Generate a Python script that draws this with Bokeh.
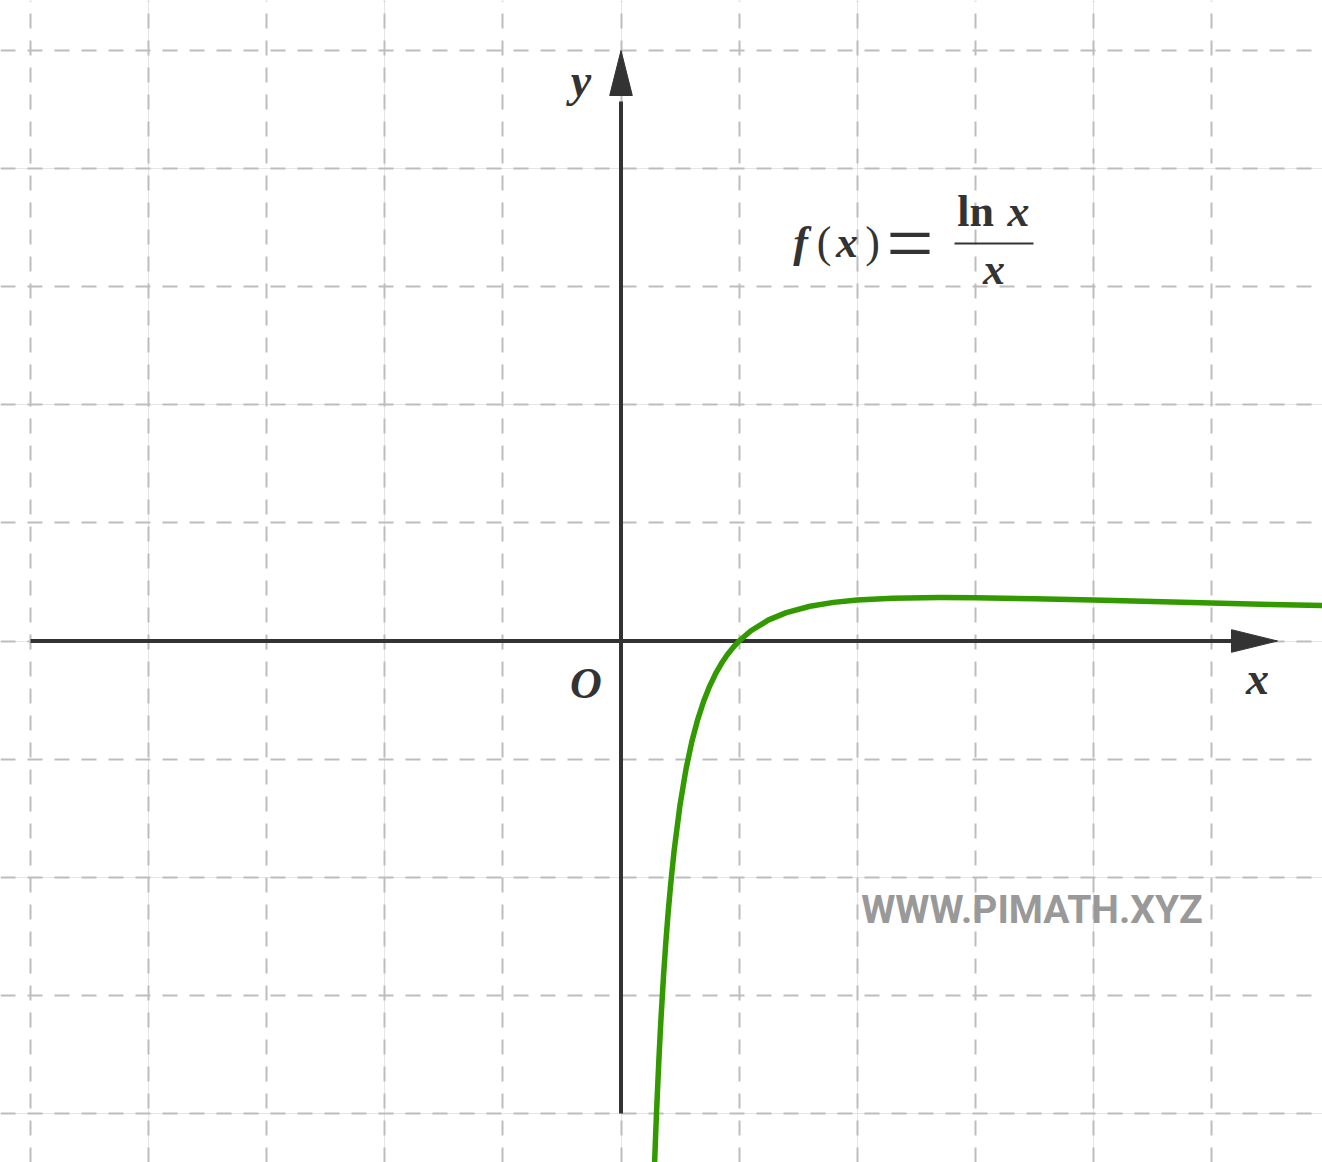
from bokeh.plotting import figure
from bokeh.models import Range1d, FixedTicker, Label, Grid
from bokeh.embed import file_html
from bokeh.resources import INLINE

# ---- data ----
curve_x = [0.28, 0.29, 0.30, 0.32, 0.33, 0.34, 0.36, 0.38, 0.40, 0.42, 0.45,
           0.50, 0.55, 0.60, 0.65, 0.70, 0.75, 0.80, 0.85, 0.90, 0.95, 1.00,
           1.10, 1.25, 1.40, 1.60, 1.80, 2.00, 2.30, 2.70, 3.00, 3.50, 4.00,
           4.50, 5.00, 5.50, 6.00]
curve_y = [-4.546, -4.269, -4.013, -3.561, -3.360, -3.173, -2.838, -2.546,
           -2.291, -2.066, -1.774, -1.386, -1.087, -0.851, -0.663, -0.510,
           -0.384, -0.279, -0.191, -0.117, -0.054, 0.0,
           0.087, 0.179, 0.240, 0.294, 0.327, 0.347, 0.362, 0.368, 0.366,
           0.358, 0.347, 0.334, 0.322, 0.310, 0.299]
grid_x_ticks = [-5, -4, -3, -2, -1, 0, 1, 2, 3, 4, 5]
grid_y_ticks = [-4, -3, -2, -1, 0, 1, 2, 3, 4, 5]
axis_x_start = -5
axis_y_start = -4

# ---- layout ----
W, H = 1322, 1162
UNIT = 118.1
OX, OY = 620.5, 640.5          # origin in page pixels
TEXT_DY = -14                   # baseline correction for labels

def dx(px):
    return (px - OX) / UNIT

def dy(py):
    return (OY - py) / UNIT

x0, x1 = dx(0), dx(W)
y1, y0 = dy(0), dy(H)

p = figure(width=W, height=H, x_range=Range1d(x0, x1), y_range=Range1d(y0, y1),
           output_backend="svg", toolbar_location=None, min_border=0,
           x_axis_location=None, y_axis_location=None)
p.outline_line_color = None
p.background_fill_color = "white"
p.border_fill_color = "white"

GRID = dict(grid_line_color="#bdbdbd", grid_line_width=2, grid_line_dash="15 12")
p.add_layout(Grid(dimension=0, ticker=FixedTicker(ticks=grid_x_ticks), **GRID))
p.add_layout(Grid(dimension=1, ticker=FixedTicker(ticks=grid_y_ticks), **GRID))

AX = "#333333"
HW = 11.3 / UNIT
# x axis
xtip, xbase = dx(1277), dx(1231)
p.line([axis_x_start, xbase + 0.05], [0, 0], line_width=4, line_color=AX)
p.patch([xtip, xbase, xbase], [0, HW, -HW], fill_color=AX, line_color=AX, line_width=1)
# y axis
ytip, ybase = dy(50), dy(95)
p.line([0, 0], [axis_y_start, ybase - 0.05], line_width=4, line_color=AX)
p.patch([0, -HW, HW], [ytip, ybase, ybase], fill_color=AX, line_color=AX, line_width=1)

# curve
p.line(curve_x, curve_y, line_width=5.5, line_color="#339900",
       line_join="round", line_cap="round")

SERIF = "Liberation Serif"

def lab(text, px, py, size, style="bold italic", align="center", font=SERIF,
        color=AX, corr=TEXT_DY):
    p.add_layout(Label(x=dx(px), y=dy(py + corr), text=text, text_font=font,
                       text_font_style=style, text_font_size=f"{size}px",
                       text_align=align, text_baseline="alphabetic",
                       text_color=color))

# axis labels
lab("y", 580.5, 94, 46)
lab("O", 585.5, 697, 44)
lab("x", 1257, 692, 46)

# formula f(x) = ln x / x
FS = 44
lab("f", 800, 256, FS)
lab("(", 823.5, 256, FS, style="normal")
lab("x", 846.5, 256, FS)
lab(")", 872, 256, FS, style="normal")
lab("=", 909.5, 270, 84, style="normal", corr=-27)
lab("ln", 975, 225, FS, style="bold")
lab("x", 1018, 225, FS)
lab("x", 993.5, 283, FS)
p.line([dx(954), dx(1033)], [dy(243), dy(243)], line_width=2, line_color=AX)

# watermark
lab("WWW.PIMATH.XYZ", 1031.5, 923, 39, style="bold", font="Roboto", color="#999999")

open("out.html", "w").write(file_html(p, INLINE))
